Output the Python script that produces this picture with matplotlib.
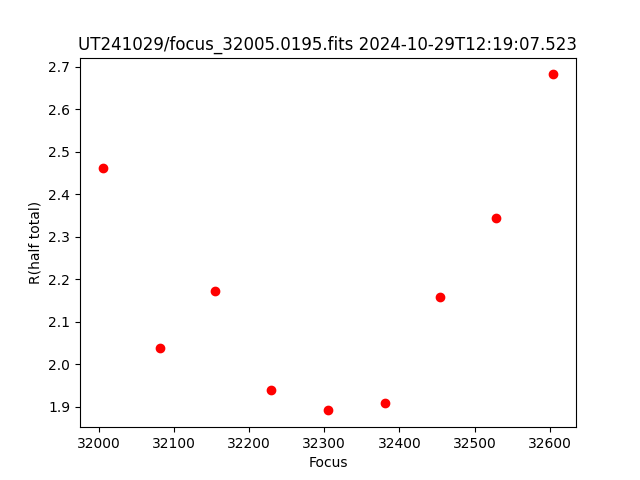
import matplotlib
matplotlib.use("Agg")
import matplotlib.pyplot as plt

focus = [32005, 32081, 32155, 32229, 32305, 32381, 32454, 32529, 32605]
r_half = [2.462, 2.038, 2.172, 1.941, 1.892, 1.909, 2.158, 2.344, 2.682]
title = "UT241029/focus_32005.0195.fits 2024-10-29T12:19:07.523"

fig, ax = plt.subplots(figsize=(6.4, 4.8), dpi=100)
ax.plot(focus, r_half, "ro")
ax.set_xlabel("Focus")
ax.set_ylabel("R(half total)")
ax.set_title(title)
fig.savefig("out.png", dpi=100)
